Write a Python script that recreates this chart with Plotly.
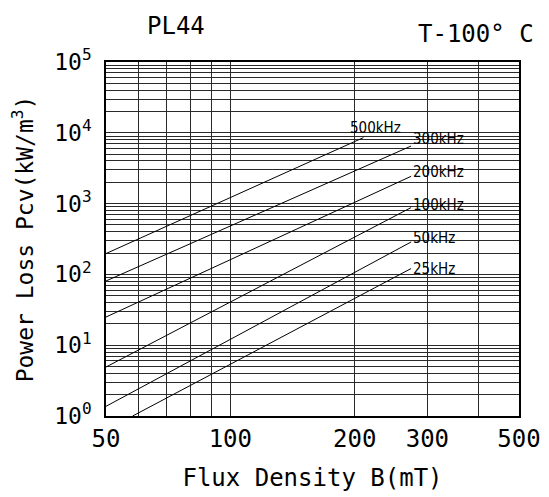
import math
import plotly.graph_objects as go

# Flux density B (mT) at both ends of each loss line, and loss Pcv (kW/m3)
freq_labels = ["500kHz", "300kHz", "200kHz", "100kHz", "50kHz", "25kHz"]
b_500k = [50, 210]
p_500k = [197, 8550]
b_300k = [50, 274]
p_300k = [80.7, 6510]
b_200k = [50, 274]
p_200k = [25, 2430]
b_100k = [50, 274]
p_100k = [4.92, 879]
b_50k = [50, 274]
p_50k = [1.37, 287]
b_25k = [58, 274]
p_25k = [1.0, 121]

x_tick_vals = [50, 100, 200, 300, 500]
x_tick_text = ["50", "100", "200", "300", "500"]
x_minor_vals = [60, 70, 80, 90, 400]
y_tick_vals = [1, 10, 100, 1000, 10000, 100000]
y_tick_text = ["10<sup>0</sup>", "10<sup>1</sup>", "10<sup>2</sup>",
               "10<sup>3</sup>", "10<sup>4</sup>", "10<sup>5</sup>"]

series_b = [b_500k, b_300k, b_200k, b_100k, b_50k, b_25k]
series_p = [p_500k, p_300k, p_200k, p_100k, p_50k, p_25k]

# label offsets (style only)
label_xshift = [-15, 0, 0, 0, 0, 0]
label_yshift = [10, 7, 4, 3, 4, 0]

y_minor_vals = [m * 10 ** e for e in range(0, 5) for m in range(2, 10)]

MONO = "DejaVu Sans Mono"
NARROW = "DejaVu Sans Condensed, Liberation Sans, sans-serif"

fig = go.Figure()
for name, bx, py in zip(freq_labels, series_b, series_p):
    fig.add_trace(go.Scatter(x=bx, y=py, mode="lines", name=name,
                             line=dict(color="black", width=1),
                             showlegend=False, hoverinfo="skip"))

for name, bx, py, xs, ys in zip(freq_labels, series_b, series_p, label_xshift, label_yshift):
    fig.add_annotation(
        x=math.log10(bx[-1]), y=math.log10(py[-1]), xref="x", yref="y",
        text=name, showarrow=False, xanchor="left", yanchor="middle",
        xshift=xs, yshift=ys,
        font=dict(family=NARROW, size=15, color="black"))

fig.add_annotation(x=0.17, y=1.0, xref="paper", yref="paper", yshift=36,
                   text="PL44", showarrow=False, xanchor="center", yanchor="middle",
                   font=dict(family=MONO, size=24, color="black"))
fig.add_annotation(x=1.04, y=1.0, xref="paper", yref="paper", yshift=28,
                   text="T-100° C", showarrow=False, xanchor="right", yanchor="middle",
                   font=dict(family=MONO, size=24, color="black"))

grid_col = "#2a2a2a"
fig.update_xaxes(
    type="log", range=[math.log10(50), math.log10(500)],
    tickmode="array", tickvals=x_tick_vals, ticktext=x_tick_text,
    ticks="", showgrid=True, gridcolor=grid_col, gridwidth=1,
    minor=dict(tickmode="array", tickvals=x_minor_vals, showgrid=True,
               gridcolor=grid_col, gridwidth=1, ticks=""),
    showline=True, linecolor="black", linewidth=1.5, mirror=True,
    tickfont=dict(family=MONO, size=24, color="black"),
    title=dict(text="Flux Density B(mT)", standoff=18,
               font=dict(family=MONO, size=24, color="black")),
    zeroline=False, automargin=False,
)
fig.update_yaxes(
    type="log", range=[0, 5],
    tickmode="array", tickvals=y_tick_vals, ticktext=y_tick_text,
    ticks="", showgrid=True, gridcolor=grid_col, gridwidth=1,
    minor=dict(tickmode="array", tickvals=y_minor_vals, showgrid=True,
               gridcolor=grid_col, gridwidth=1, ticks=""),
    showline=True, linecolor="black", linewidth=1.5, mirror=True,
    tickfont=dict(family=MONO, size=23, color="black"),
    ticklabelstandoff=8,
    title=dict(text="Power Loss Pcv(kW/m<sup>3</sup>)", standoff=22,
               font=dict(family=MONO, size=23, color="black")),
    zeroline=False, automargin=False,
)
fig.update_layout(
    width=541, height=489,
    margin=dict(l=98, r=30, t=54, b=81),
    paper_bgcolor="white", plot_bgcolor="white",
    showlegend=False,
)
fig.write_html("out.html")
